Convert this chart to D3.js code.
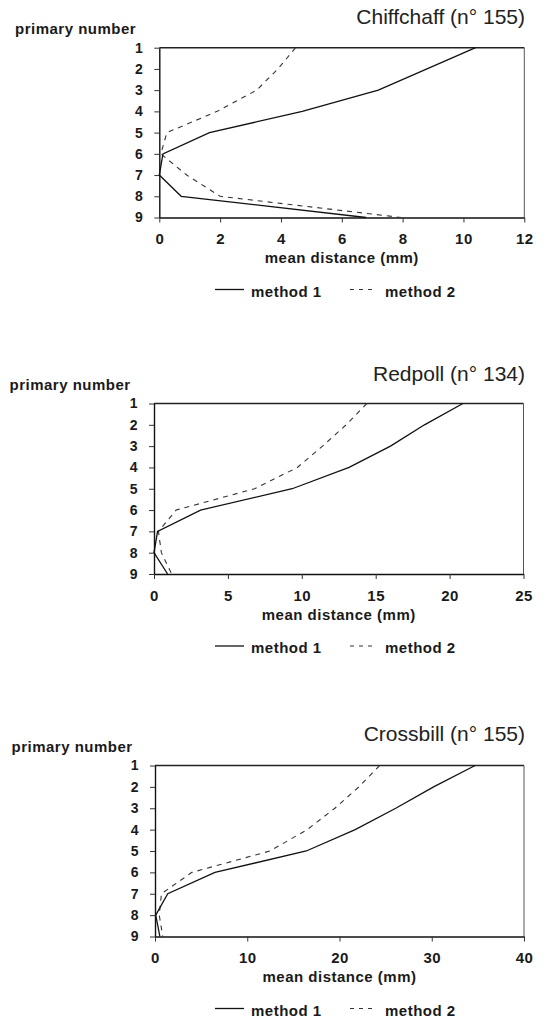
<!DOCTYPE html>
<html>
<head>
<meta charset="utf-8">
<script src="https://cdn.jsdelivr.net/npm/d3@7"></script>
<style>
body { margin: 0; background: #fff; }
text { font-family: "Liberation Sans", Arial, Helvetica, sans-serif; }
.lab { font-weight: bold; font-size: 15px; letter-spacing: 0.5px; fill: #1a1a1a; }
.ttl { font-size: 21px; fill: #222; }
</style>
</head>
<body>
<div id="c1"></div>
<script>
// Variables
var primaries = [1, 2, 3, 4, 5, 6, 7, 8, 9];

// Chiffchaff
var chiffM1 = [10.4, 8.8, 7.2, 4.7, 1.65, 0.12, 0, 0.72, 6.8];
var chiffM2 = [4.48, 3.9, 3.2, 1.9, 0.25, 0.05, 0.9, 2.0, 7.95];
var chiffTicks = [0, 2, 4, 6, 8, 10, 12];

// Redpoll
var redM1 = [20.9, 18.3, 16.0, 13.2, 9.35, 3.15, 0.24, 0, 0.92];
var redM2 = [14.4, 13.0, 11.4, 9.7, 6.8, 1.5, 0.3, 0.5, 1.2];
var redTicks = [0, 5, 10, 15, 20, 25];

// Crossbill
var crossM1 = [34.7, 30.2, 26.1, 21.7, 16.4, 6.5, 1.38, 0.08, 0.53];
var crossM2 = [24.35, 22.1, 19.5, 16.5, 12.46, 4.0, 0.7, 0.46, 0.84];
var crossTicks = [0, 10, 20, 30, 40];

var titles = ["Chiffchaff (n\u00b0 155)", "Redpoll (n\u00b0 134)", "Crossbill (n\u00b0 155)"];
var yLabel = "primary number";
var xLabel = "mean distance (mm)";
var legendLabels = ["method 1", "method 2"];

var w = 549;
var h = 1018;

// panel boxes (pixels)
var boxes = [
    {top: 47.7, bottom: 217.5, left: 159.3, right: 524.3, titleY: 23.5, pnX: 15},
    {top: 403.5, bottom: 574, left: 154, right: 523.5, titleY: 381, pnX: 9.5},
    {top: 765.5, bottom: 936.5, left: 155, right: 524, titleY: 740.5, pnX: 11.5}
];

var panels = [
    {m1: chiffM1, m2: chiffM2, ticks: chiffTicks},
    {m1: redM1, m2: redM2, ticks: redTicks},
    {m1: crossM1, m2: crossM2, ticks: crossTicks}
];

var svg = d3.select("#c1").append("svg")
    .attr("width", w)
    .attr("height", h);

function drawPanel(p, b, title) {
    var g = svg.append("g");

    var x = d3.scaleLinear()
        .domain([0, d3.max(p.ticks)])
        .range([b.left, b.right]);
    var y = d3.scaleLinear()
        .domain([1, 9])
        .range([b.top, b.bottom]);

    // frame top + right
    g.append("line")
        .attr("x1", b.left).attr("x2", b.right)
        .attr("y1", b.top).attr("y2", b.top)
        .attr("stroke", "#222").attr("stroke-width", 1.5);
    g.append("line")
        .attr("x1", b.right).attr("x2", b.right)
        .attr("y1", b.top).attr("y2", b.bottom)
        .attr("stroke", "#555").attr("stroke-width", 1);

    var ya = g.append("g")
        .attr("transform", "translate(" + b.left + ",0)")
        .call(d3.axisLeft(y).tickValues(primaries).tickFormat(d3.format("d"))
            .tickSize(5).tickSizeOuter(0).tickPadding(11));
    var xa = g.append("g")
        .attr("transform", "translate(0," + b.bottom + ")")
        .call(d3.axisBottom(x).tickValues(p.ticks).tickFormat(d3.format("d"))
            .tickSize(5).tickSizeOuter(0).tickPadding(11));

    [ya, xa].forEach(function (a) {
        a.select(".domain").attr("stroke", "#111").attr("stroke-width", 1.4);
        a.selectAll(".tick line").attr("stroke", "#333");
        a.selectAll("text").attr("class", "lab").attr("fill", null);
    });
    ya.selectAll("text").style("font-size", "14px");

    var line = d3.line()
        .x(function (d) { return x(d.v); })
        .y(function (d) { return y(d.p); });

    var m1 = primaries.map(function (d, i) { return {p: d, v: p.m1[i]}; });
    var m2 = primaries.map(function (d, i) { return {p: d, v: p.m2[i]}; });

    g.append("path").datum(m2)
        .attr("d", line)
        .attr("fill", "none")
        .attr("stroke", "#333")
        .attr("stroke-width", 1.1)
        .attr("stroke-dasharray", "5,5");
    g.append("path").datum(m1)
        .attr("d", line)
        .attr("fill", "none")
        .attr("stroke", "#111")
        .attr("stroke-width", 1.3);

    // texts
    g.append("text").attr("class", "ttl")
        .attr("x", 525).attr("y", b.titleY)
        .attr("text-anchor", "end")
        .text(title);
    g.append("text").attr("class", "lab")
        .attr("x", b.pnX).attr("y", b.top - 14)
        .text(yLabel);
    g.append("text").attr("class", "lab")
        .attr("x", (b.left + b.right) / 2).attr("y", b.bottom + 45.5)
        .attr("text-anchor", "middle")
        .text(xLabel);

    // legend
    var ly = b.bottom + 72;
    g.append("line")
        .attr("x1", 215).attr("x2", 244).attr("y1", ly).attr("y2", ly)
        .attr("stroke", "#111").attr("stroke-width", 1.3);
    g.append("text").attr("class", "lab")
        .attr("x", 251).attr("y", ly + 7)
        .text(legendLabels[0]);
    g.append("line")
        .attr("x1", 350).attr("x2", 376).attr("y1", ly).attr("y2", ly)
        .attr("stroke", "#333").attr("stroke-width", 1.1)
        .attr("stroke-dasharray", "4,5");
    g.append("text").attr("class", "lab")
        .attr("x", 385).attr("y", ly + 7)
        .text(legendLabels[1]);
}

panels.forEach(function (p, i) {
    drawPanel(p, boxes[i], titles[i]);
});
</script>
</body>
</html>
